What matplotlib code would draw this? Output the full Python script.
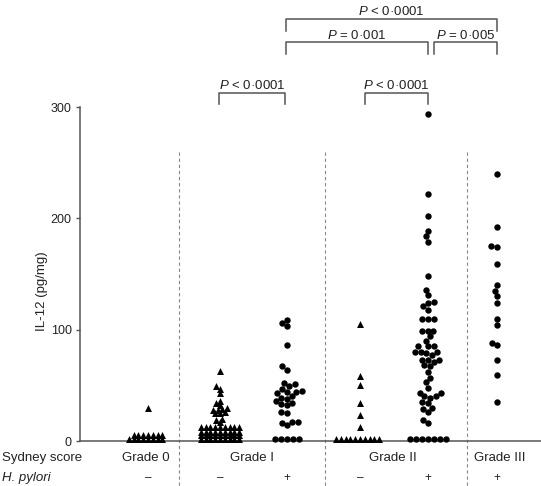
import numpy as np
import matplotlib
matplotlib.use('Agg')
import matplotlib.pyplot as plt

plt.rcParams['font.family'] = ['Liberation Sans', 'DejaVu Sans']
plt.rcParams['mathtext.fontset'] = 'custom'
plt.rcParams['mathtext.it'] = 'Liberation Sans:italic'
plt.rcParams['mathtext.rm'] = 'Liberation Sans'

# IL-12 (pg/mg)
grade0_neg = [30] + [5.5] * 7 + [2] * 8
grade1_neg = [63, 49, 47, 43, 36, 34, 32, 30, 29, 28, 28, 26, 25, 25, 20, 19, 17] \
    + [12.5] * 9 + [8.5] * 9 + [5] * 9 + [1.5] * 9
grade1_pos = [109, 106, 103, 86, 67, 64, 52, 51, 49, 47, 45, 44, 44, 43, 40, 39, 38,
              36, 34, 33, 32, 26, 25, 17, 17, 16, 14] + [1.5] * 5
grade2_neg = [105, 58, 50, 34, 23, 13] + [1.5] * 10
grade2_pos = [294, 222, 202, 189, 184, 179, 148, 136, 131, 125, 124, 121, 118, 110, 110,
              110, 99, 99, 99, 94, 90, 85, 85, 85, 80, 80, 80, 79, 77, 73, 73, 73, 71,
              68, 67, 62, 57, 53, 48, 43, 43, 40, 40, 39, 35, 34, 30, 29, 26, 19, 16] + [1.5] * 7
grade3_pos = [240, 192, 175, 174, 159, 140, 135, 130, 124, 110, 104, 88, 86, 73, 59, 35]

groups = [grade0_neg, grade1_neg, grade1_pos, grade2_neg, grade2_pos, grade3_pos]
hp_signs = ['\u2013', '\u2013', '+', '\u2013', '+', '+']
grade_labels = ['Grade 0', 'Grade I', 'Grade II', 'Grade III']

# p values: (group a, group b, text)
comparisons = [(1, 2, '$P$ < 0\u00b70001'),
               (3, 4, '$P$ < 0\u00b70001'),
               (2, 4, '$P$ = 0\u00b7001'),
               (4, 5, '$P$ = 0\u00b7005'),
               (2, 5, '$P$ < 0\u00b70001')]

# layout (x axis in pixel-like units)
group_x = [148, 220, 287, 360, 428, 497]
grade_label_x = [146, 252, 393, 500]
dividers = [179, 325, 467]
bracket_y = [313, 313, 358, 358, 379]
bracket_x = [(219, 285), (365, 428), (286, 428), (434, 497), (286, 497)]

W, H = 541, 486
fig = plt.figure(figsize=(W / 100, H / 100), dpi=100)
ax = fig.add_axes([80 / W, 45 / H, 461 / W, 334 / H])
ax.set_xlim(80, 541)
ax.set_ylim(0, 300)
ypx = 334 / 300  # pixels per pg/mg


def swarm(values, dx, dy):
    # put each point as near the centre line as it fits
    placed = []
    offs = np.zeros(len(values))
    for i in np.argsort(values, kind='stable'):
        y = values[i] * ypx
        near = [(px, py) for px, py in placed if abs(py - y) < dy]
        cands = [0.0]
        for px, py in near:
            h = dx * np.sqrt(1 - ((py - y) / dy) ** 2)
            cands += [px - h, px + h]
        cands.sort(key=abs)
        for c in cands:
            if all(((c - px) / dx) ** 2 + ((y - py) / dy) ** 2 >= 0.999 for px, py in near):
                break
        placed.append((c, y))
        offs[i] = c
    return offs


for vals, gx, sign in zip(groups, group_x, hp_signs):
    vals = np.array(vals, dtype=float)
    if sign == '+':
        off = swarm(vals, 5.9, 6.0)
        ax.scatter(gx + off, vals, s=4.6 ** 2, marker='o', color='black',
                   linewidths=0, clip_on=False, zorder=3)
    else:
        off = swarm(vals, 4.8, 3.8)
        ax.scatter(gx + off, vals, s=5.0 ** 2, marker='^', color='black',
                   linewidths=0, clip_on=False, zorder=3)
    ax.text(gx, -33, sign, ha='center', va='center', fontsize=8.5, color='#222')

for gl, lx in zip(grade_labels, grade_label_x):
    ax.text(lx, -15.3, gl, ha='center', va='center', fontsize=9.5, color='#222')

for d in dividers:
    ax.plot([d, d], [260, -41], ls=(0, (3, 2.5)), color='#888', lw=0.8, clip_on=False)

for (a, b, txt), (x1, x2), by in zip(comparisons, bracket_x, bracket_y):
    ax.plot([x1, x1, x2, x2], [by - 10.5, by, by, by - 10.5], color='#555', lw=1.1,
            clip_on=False)
    ax.text((x1 + x2) / 2, by + 6.5, txt, ha='center', va='center', fontsize=9.5,
            color='#222')

fig.text(2 / W, 1 - 458 / H, 'Sydney score', ha='left', va='center', fontsize=9.5, color='#222')
fig.text(2 / W, 1 - 478 / H, 'H. pylori', ha='left', va='center', fontsize=9.5,
         style='italic', color='#222')

ax.set_xticks([])
ax.set_yticks([0, 100, 200, 300])
ax.tick_params(axis='y', direction='out', length=3, width=1, color='#555',
               labelsize=9, labelcolor='#222', pad=3)
ax.set_ylabel('IL-12 (pg/mg)', fontsize=9.5, color='#222')
ax.yaxis.set_label_coords(-0.07, 0.45)
for s in ['top', 'right']:
    ax.spines[s].set_visible(False)
for s in ['left', 'bottom']:
    ax.spines[s].set_color('#555')
    ax.spines[s].set_linewidth(1.1)

fig.savefig('out.png', dpi=100)
